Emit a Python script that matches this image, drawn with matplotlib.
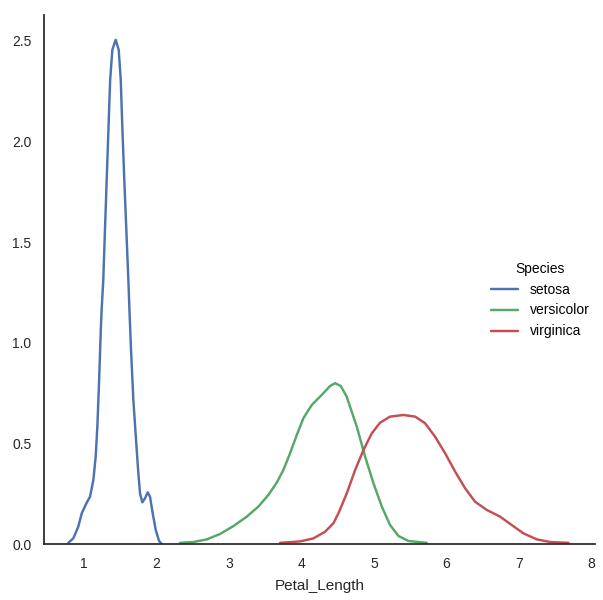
import matplotlib.pyplot as plt

# density curves for Petal_Length per species
setosa_x = [0.783, 0.852, 0.921, 0.968, 1.028, 1.083, 1.129, 1.161, 1.184, 1.207, 1.23,
            1.243, 1.266, 1.289, 1.313, 1.337, 1.361, 1.391, 1.437, 1.479, 1.507,
            1.53, 1.556, 1.584, 1.612, 1.627, 1.649, 1.681, 1.718, 1.75, 1.773,
            1.805, 1.842, 1.879, 1.911, 1.948, 1.99, 2.035, 2.073]
setosa_y = [0.006, 0.028, 0.086, 0.152, 0.199, 0.235, 0.318, 0.434, 0.583, 0.799, 1.047,
            1.163, 1.312, 1.561, 1.809, 2.058, 2.306, 2.455, 2.505, 2.455, 2.306,
            2.058, 1.809, 1.561, 1.312, 1.163, 0.964, 0.716, 0.517, 0.351, 0.252,
            0.207, 0.227, 0.257, 0.235, 0.152, 0.07, 0.016, 0.0]

versicolor_x = [2.325, 2.509, 2.694, 2.878, 3.062, 3.246, 3.407, 3.545, 3.66, 3.752,
                3.844, 3.937, 4.028, 4.144, 4.282, 4.396, 4.465, 4.544, 4.626, 4.718,
                4.765, 4.88, 4.995, 5.11, 5.225, 5.34, 5.478, 5.73]
versicolor_y = [0.006, 0.01, 0.023, 0.05, 0.089, 0.136, 0.186, 0.244, 0.305, 0.368,
                0.451, 0.542, 0.625, 0.691, 0.741, 0.785, 0.799, 0.785, 0.732, 0.633,
                0.583, 0.434, 0.302, 0.186, 0.094, 0.04, 0.015, 0.006]

virginica_x = [3.707, 3.982, 4.166, 4.327, 4.442, 4.511, 4.627, 4.742, 4.857, 4.972,
               5.087, 5.225, 5.408, 5.57, 5.708, 5.846, 5.984, 6.122, 6.26, 6.398,
               6.56, 6.743, 6.905, 7.065, 7.25, 7.434, 7.687]
virginica_y = [0.006, 0.013, 0.028, 0.061, 0.103, 0.152, 0.252, 0.368, 0.467, 0.55,
               0.603, 0.633, 0.641, 0.633, 0.6, 0.533, 0.451, 0.36, 0.277, 0.21,
               0.169, 0.136, 0.094, 0.053, 0.023, 0.01, 0.006]

species = ["setosa", "versicolor", "virginica"]
colors = ["#4C72B0", "#55A868", "#C44E52"]
x_ticks = [1, 2, 3, 4, 5, 6, 7, 8]
y_ticks = [0.0, 0.5, 1.0, 1.5, 2.0, 2.5]

plt.rcParams['font.family'] = ['Liberation Sans', 'DejaVu Sans']

fig = plt.figure(figsize=(6.03, 6.0), dpi=100)
ax = fig.add_axes([0.073, 0.0933, 0.914, 0.882])

curves = [(setosa_x, setosa_y), (versicolor_x, versicolor_y), (virginica_x, virginica_y)]
for name, (xs, ys), c in zip(species, curves, colors):
    ax.plot(xs, ys, color=c, lw=1.75, label=name,
            solid_capstyle='round', solid_joinstyle='round')

ax.set_xlim(0.448, 8.055)
ax.set_ylim(0, 2.629)
ax.set_xticks(x_ticks)
ax.set_yticks(y_ticks)
ax.tick_params(length=0, labelsize=10, colors='.15', pad=9)
ax.set_xlabel("Petal_Length", fontsize=11, color='.15', labelpad=6)

for side in ['top', 'right']:
    ax.spines[side].set_visible(False)
for side in ['left', 'bottom']:
    ax.spines[side].set_color('.15')
    ax.spines[side].set_linewidth(1.25)

handles, labels = ax.get_legend_handles_labels()
fig.legend(handles, labels, title="Species", loc='center left',
           bbox_to_anchor=(0.793, 0.5), frameon=False, fontsize=10,
           title_fontsize=10)

fig.savefig("out.png", dpi=100)
